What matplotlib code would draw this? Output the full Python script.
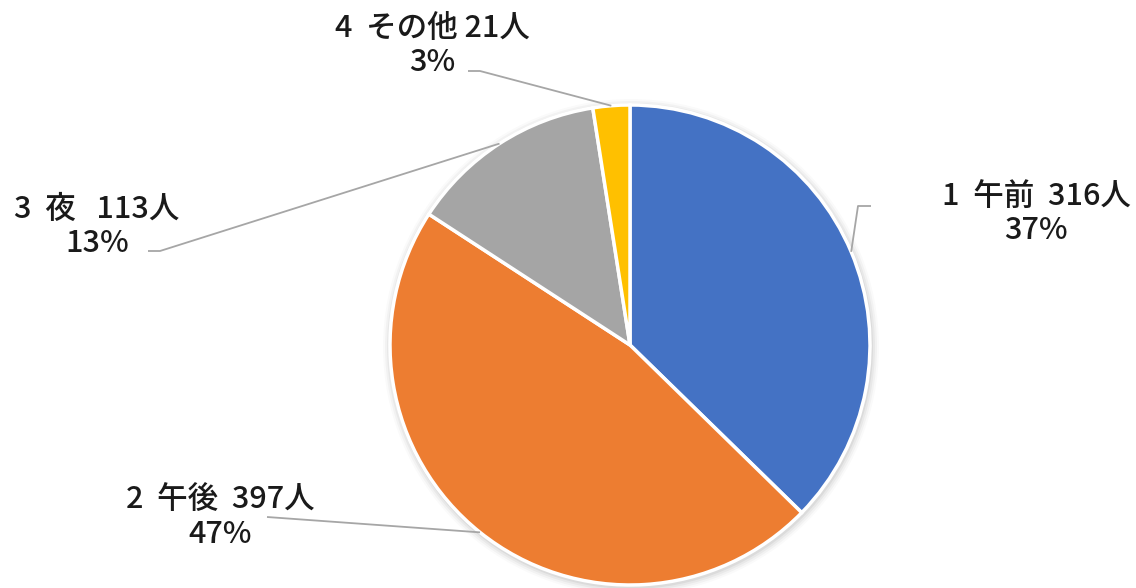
import numpy as np
import matplotlib
matplotlib.use("Agg")
import matplotlib.pyplot as plt

plt.rcParams['font.family'] = ['Noto Sans CJK JP', 'DejaVu Sans']

numbers = ["1", "2", "3", "4"]
categories = ["午前", "午後", "夜", "その他"]
values = [316, 397, 113, 21]
percent_labels = ["37%", "47%", "13%", "3%"]
colors = ["#4472C4", "#ED7D31", "#A5A5A5", "#FFC000"]
label_texts = ["1  午前  316人", "2  午後  397人", "3  夜   113人", "4  その他 21人"]

W, H = 1136, 588
fig = plt.figure(figsize=(W / 100, H / 100), dpi=100)
ax = fig.add_axes([0, 0, 1, 1])

cx, cy, r = 630, H - 345, 240

# soft shadow
for i, a in enumerate([0.05, 0.04, 0.03, 0.02]):
    ax.add_patch(plt.Circle((cx + 1, cy - 2), r + 2 + i * 2, color='black', alpha=a, lw=0, zorder=0))

wedges, _ = ax.pie(values, colors=colors, startangle=90, counterclock=False,
                   center=(cx, cy), radius=r, frame=True,
                   wedgeprops=dict(edgecolor='white', linewidth=2.5))
ax.set_xlim(0, W)
ax.set_ylim(0, H)
ax.set_aspect('equal')
ax.axis('off')

# label centers x, first-row baseline y (image coords) and leader line elbows
label_x = [1036, 220, 97, 432]
label_base = [205, 509, 218, 37]
row_gap = 34
leader_start = [[(858, 206), (871, 206)], [(267, 517)], [(160, 251), (148, 251)], [(480, 71), (468, 71)]]

for i, w in enumerate(wedges):
    mid = np.deg2rad((w.theta1 + w.theta2) / 2)
    ex, ey = cx + r * np.cos(mid), cy + r * np.sin(mid)
    pts = [(ex, ey)] + [(x, H - y) for x, y in leader_start[i]]
    xs, ys = zip(*pts)
    ax.plot(xs, ys, color='#A6A6A6', lw=1.3, zorder=3, solid_capstyle='butt')
    lx = label_x[i]
    by = label_base[i]
    ax.text(lx, H - by, label_texts[i], ha='center', va='baseline',
            fontsize=22, fontweight='medium', color='#1a1a1a', zorder=4)
    ax.text(lx, H - by - row_gap, percent_labels[i], ha='center', va='baseline',
            fontsize=22, fontweight='medium', color='#1a1a1a', zorder=4)

fig.savefig("out.png", dpi=100)
